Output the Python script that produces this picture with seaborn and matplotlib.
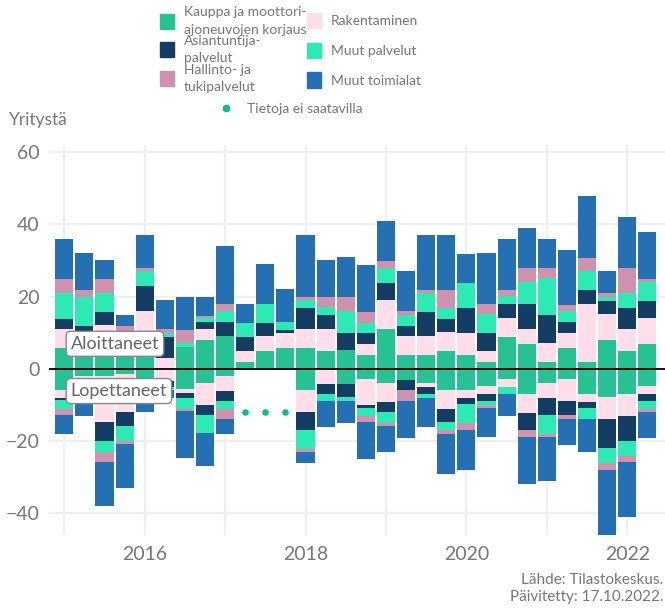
import numpy as np
import pandas as pd
import matplotlib
matplotlib.use("Agg")
import matplotlib.pyplot as plt
from matplotlib.patches import Patch
from matplotlib.lines import Line2D
import seaborn as sns

# Neljännekset 2015Q1 - 2022Q2
vuodet = [2015]*4 + [2016]*4 + [2017]*4 + [2018]*4 + [2019]*4 + [2020]*4 + [2021]*4 + [2022]*2
neljannekset = [1, 2, 3, 4]*7 + [1, 2]

toimialat = ["Kauppa ja moottori-\najoneuvojen korjaus", "Rakentaminen", "Asiantuntija-\npalvelut",
             "Muut palvelut", "Hallinto- ja\ntukipalvelut", "Muut toimialat"]
varit = ["#26c293", "#ffdeea", "#143d64", "#2de9b4", "#cf92ae", "#2470b3"]

# Aloittaneet yritykset
alo_kauppa = [5.6, 5.0, 7.5, 6.5, 6.0, 0, 5.9, 7.9, 9.1, 1.8, 4.9, 5.7, 5.7, 4.9, 5.2, 3.8, 11.0, 3.8, 3.8, 4.9,
              3.8, 1.8, 8.8, 6.8, 1.8, 5.7, 1.8, 7.9, 4.9, 6.8]
alo_rakentaminen = [5.3, 2.5, 4.6, 2.0, 9.9, 3.0, 0, 3.0, 0, 3.0, 4.2, 4.2, 5.3, 6.1, 0, 3.0, 8.0, 5.3, 5.3, 5.3,
                    6.1, 3.0, 5.3, 4.2, 5.3, 4.2, 16.1, 7.2, 6.1, 7.2]
alo_asiantuntija = [2.9, 4.3, 3.6, 0, 7.0, 5.9, 0, 2.0, 3.9, 3.9, 3.6, 0.8, 5.8, 3.9, 4.7, 3.0, 4.7, 2.8, 6.7, 3.6,
                    6.9, 5.0, 3.9, 6.9, 7.8, 3.0, 3.9, 3.6, 5.8, 4.7]
alo_muut_palvelut = [7.1, 8.1, 5.2, 0, 4.2, 1.0, 1.1, 1.1, 3.0, 3.9, 5.3, 2.2, 2.2, 2.2, 6.1, 3.0, 4.2, 3.0, 5.3, 3.0,
                     6.9, 5.3, 2.2, 6.1, 10.3, 3.0, 5.3, 1.1, 4.2, 5.3]
alo_hallinto = [4.0, 1.9, 4.0, 3.3, 0.8, 1.1, 3.6, 0.7, 1.9, 0, 0, 0, 0.8, 2.8, 3.9, 3.0, 1.9, 1.1, 0.8, 5.0,
                0, 2.8, 1.7, 3.9, 2.8, 1.7, 3.6, 1.1, 6.9, 0.8]
alo_muut_toimialat = [11.1, 10.3, 5.3, 3.1, 9.2, 8.0, 9.2, 5.3, 16.1, 5.3, 11.1, 9.1, 17.2, 10.3, 11.1, 13.0, 11.1, 11.1,
                      15.2, 15.2, 8.0, 14.1, 14.1, 11.1, 8.0, 15.2, 17.2, 6.1, 14.1, 13.0]

# Lopettaneet yritykset (nan = tietoja ei saatavilla)
nan = np.nan
lop_kauppa = [5.9, 1.9, 1.9, 1.5, 4.5, 0, 5.7, 3.9, 1.9, nan, nan, nan, 5.9, 0, 4.3, 2.9, 4.0, 3.1, 4.1, 5.9,
              5.9, 4.8, 2.9, 7.0, 4.0, 2.9, 7.0, 7.9, 7.0, 4.8]
lop_rakentaminen = [2.1, 1.5, 13.0, 10.4, 1.5, 3.5, 1.1, 6.2, 4.2, nan, nan, nan, 6.1, 4.3, 0, 7.2, 5.3, 0, 0.9, 5.3,
                    2.2, 2.2, 2.2, 5.3, 4.2, 6.1, 2.2, 6.1, 6.1, 2.2]
lop_asiantuntija = [0.8, 1.5, 5.1, 4.0, 1.0, 1.5, 1.2, 2.8, 2.8, nan, nan, nan, 5.0, 2.8, 3.6, 0.8, 2.8, 2.8, 2.0, 3.6,
                    1.7, 1.9, 0, 4.7, 4.7, 3.9, 1.7, 8.0, 6.9, 1.9]
lop_muut_palvelut = [2.3, 2.0, 3.0, 4.2, 1.0, 1.0, 3.1, 5.0, 2.3, nan, nan, nan, 5.4, 1.9, 1.1, 2.2, 3.0, 0, 1.1, 2.2,
                     5.3, 1.1, 1.9, 0, 5.3, 0, 3.0, 4.2, 4.2, 2.2]
lop_hallinto = [1.7, 1.0, 2.8, 0.8, 0.5, 0, 0.7, 0, 2.7, nan, nan, nan, 0.7, 0, 0, 1.7, 0.8, 3.0, 0, 1.1,
                1.9, 0.8, 0, 1.9, 0.8, 1.1, 0, 1.9, 1.7, 0.8]
lop_muut_toimialat = [5.3, 5.2, 12.2, 12.1, 3.5, 2.0, 13.0, 9.1, 4.3, nan, nan, nan, 3.1, 7.2, 6.0, 10.3, 7.2, 10.3,
                      8.1, 11.1, 11.1, 8.0, 6.1, 13.0, 12.2, 7.2, 9.1, 18.0, 15.2, 7.2]
puuttuva_taso = -12

aika = np.array(vuodet) + (np.array(neljannekset) - 1) / 4

alo = [alo_kauppa, alo_rakentaminen, alo_asiantuntija, alo_muut_palvelut, alo_hallinto, alo_muut_toimialat]
lop = [lop_kauppa, lop_rakentaminen, lop_asiantuntija, lop_muut_palvelut, lop_hallinto, lop_muut_toimialat]

def pitka(sarjat, etumerkki):
    osat = []
    for nimi, arvot in zip(toimialat, sarjat):
        osat.append(pd.DataFrame({"aika": aika, "toimiala": nimi, "arvo": etumerkki * np.array(arvot)}))
    d = pd.concat(osat, ignore_index=True)
    return d.dropna()

df_alo = pitka(alo, 1)
df_lop = pitka(lop, -1)

sns.set_theme(style="white")
plt.rcParams['font.family'] = ['Lato', 'DejaVu Sans']
harmaa = "#777777"

fig = plt.figure(figsize=(6.65, 6.08), dpi=100)
ax = fig.add_axes([49/665, 73/608, 1 - 49/665, 390/608])

paletti = dict(zip(toimialat, varit))
for d in (df_alo, df_lop):
    sns.histplot(data=d, x="aika", weights="arvo", hue="toimiala", hue_order=toimialat[::-1],
                 multiple="stack", binwidth=0.25, binrange=(2014.875, 2022.375), shrink=0.9,
                 palette=paletti, alpha=1, linewidth=0, edgecolor="none", legend=False, ax=ax)

puuttuu = aika[np.isnan(np.array(lop_kauppa))]
ax.scatter(puuttuu, np.full(len(puuttuu), puuttuva_taso), s=22, color="#00c08b", zorder=5, linewidth=0)

ax.axhline(0, color="black", lw=1.3, zorder=4)
ax.set_xlim(2014.81, 2022.47)
ax.set_ylim(-46.1, 62)
ax.set_yticks([-40, -20, 0, 20, 40, 60])
ax.set_xticks(range(2015, 2023))
ax.set_xticklabels([str(v) if v % 2 == 0 else "" for v in range(2015, 2023)])
ax.grid(True, color="#efefef", lw=1.6)
ax.set_axisbelow(True)
for s in ax.spines.values():
    s.set_visible(False)
ax.tick_params(axis="both", length=0, labelsize=14, labelcolor=harmaa)
ax.tick_params(axis="x", pad=8)
ax.tick_params(axis="y", pad=7)
ax.set_xlabel("")
ax.set_ylabel("")

laatikko = dict(boxstyle="round,pad=0.25", fc="white", ec="#888888", lw=1)
ax.text(2015.08, 6.9, "Aloittaneet", fontsize=13, color="#666666", ha="left", va="center", bbox=laatikko, zorder=6)
ax.text(2015.08, -6.2, "Lopettaneet", fontsize=13, color="#666666", ha="left", va="center", bbox=laatikko, zorder=6)

fig.text(9/665, 1 - 120/608, "Yritystä", fontsize=12.5, color=harmaa, ha="left", va="center")

# Selite
sarake1 = [0, 2, 4]
sarake2 = [1, 3, 5]
yhteiset = dict(frameon=False, borderpad=0, borderaxespad=0, handlelength=1.0, handleheight=1.3,
                handletextpad=0.7, fontsize=10, labelcolor=harmaa, loc="upper left")
l1 = fig.legend([Patch(color=varit[i]) for i in sarake1], [toimialat[i] for i in sarake1],
                bbox_to_anchor=(160/665, 1 - 6/608), labelspacing=-0.05, **yhteiset)
for t in l1.get_texts():
    t.set_linespacing(1.55)
l2 = fig.legend([Patch(color=varit[i]) for i in sarake2], [toimialat[i] for i in sarake2],
                bbox_to_anchor=(307/665, 1 - 13/608), labelspacing=1.05, **yhteiset)
l3 = fig.legend([Line2D([], [], marker="o", ls="", color="#00c08b", markersize=4.5)], ["Tietoja ei saatavilla"],
                frameon=False, fontsize=10, labelcolor=harmaa, loc="center left", handletextpad=1.0,
                bbox_to_anchor=(219/665, 1 - 109/608), borderpad=0, borderaxespad=0, handlelength=1.0)

fig.text(663/665, 1 - 580/608, "Lähde: Tilastokeskus.", fontsize=11, color=harmaa, ha="right", va="center")
fig.text(663/665, 1 - 597/608, "Päivitetty: 17.10.2022.", fontsize=11, color=harmaa, ha="right", va="center")

fig.savefig("out.png", dpi=100)
